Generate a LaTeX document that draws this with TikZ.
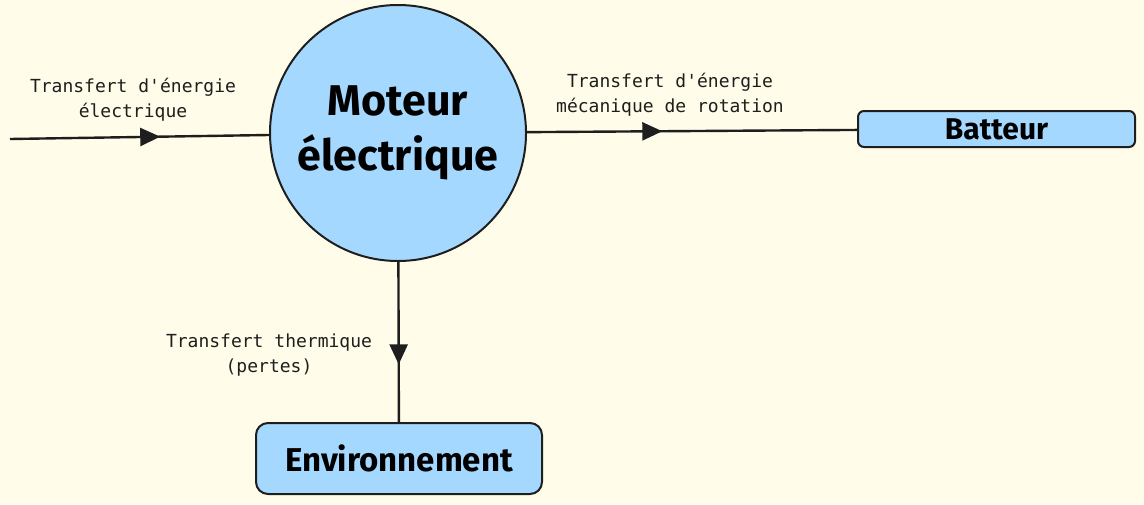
\documentclass[tikz,border=0pt]{standalone}
\usepackage{fontspec}
\setmainfont{Fira Sans}
\setmonofont{DejaVu Sans Mono}
\usepackage{tikz}
\usepackage{xcolor}
\usetikzlibrary{shapes}
\usetikzlibrary{positioning}
\usetikzlibrary{arrows.meta,decorations.markings}

\definecolor{fond}{HTML}{FFFDE9}
\definecolor{bleu}{HTML}{A5D8FF}
\definecolor{trait}{HTML}{1E1E1E}

\tikzset{
	bloc/.style={draw=trait,fill=bleu,line width=1pt,rounded corners=3pt,font=\bfseries},
	legende/.style={font=\ttfamily\fontsize{9}{12.5}\selectfont,text=trait,align=center},
	flux/.style={draw=trait,line width=1.2pt,postaction={decorate},
		decoration={markings,mark=at position #1 with {\arrow{Triangle[length=10pt,width=9pt]}}}}
}

\begin{document}
\begin{tikzpicture}[x=0.5pt,y=-0.5pt]
		%Fond
			\fill[fond] (0,0) rectangle (1144,504);
			\useasboundingbox (0,0) rectangle (1144,504);
		%Moteur
			\path node (moteur) at (398,133) [circle,draw=trait,fill=bleu,line width=1pt,minimum size=128pt,inner sep=0pt,align=center,
				font=\bfseries\fontsize{21.5}{27.5}\selectfont]{Moteur\\électrique};
		%Blocs
			\node (batteur) at (996.5,129) [bloc,minimum width=138.5pt,minimum height=18pt,font=\bfseries\fontsize{15}{18}\selectfont]{Batteur};
			\node (environnement) at (399,458.5) [bloc,rounded corners=6pt,minimum width=143pt,minimum height=35.5pt,
				font=\bfseries\fontsize{16.5}{20}\selectfont]{Environnement};
			\coordinate (entree) at (10,139);
		%Flux
			\draw[flux=0.58] (entree) -- (moteur);
			\draw[flux=0.41] (moteur) -- (batteur);
			\draw[flux=0.64] (moteur) -- (environnement);
		%Legendes
			\node (legelec) at (133,100) [legende]{Transfert d'énergie\\électrique};
			\node (legmeca) at (670,95) [legende]{Transfert d'énergie\\mécanique de rotation};
			\node (legtherm) at (269,355) [legende]{Transfert thermique\\(pertes)};
	\end{tikzpicture}
\end{document}
